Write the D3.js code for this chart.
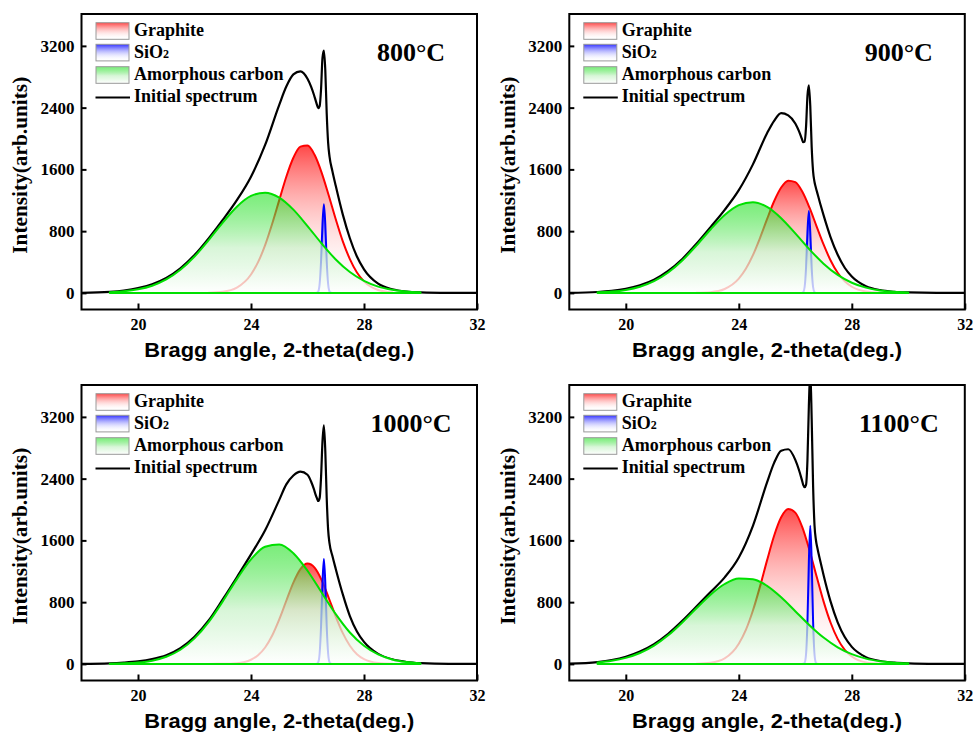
<!DOCTYPE html>
<html>
<head>
<meta charset="utf-8">
<title>XRD peak fitting</title>
<script src="https://d3js.org/d3.v7.min.js"></script>
<style>
  body { margin: 0; background: #fff; }
  svg { display: block; background: #fff; }
</style>
</head>
<body>
<svg id="chart" width="974" height="732"></svg>
<script>
// panel titles and axis ticks
var temps = ["800°C", "900°C", "1000°C", "1100°C"];
var xTicks = [20, 24, 28, 32];
var yTicks = [0, 800, 1600, 2400, 3200];

// 2-theta grids (deg.)
var specX = [18, 19, 19.5, 20, 20.5, 21, 21.5, 22, 22.5, 23, 23.5, 24, 24.5, 25, 25.25, 25.5, 25.75, 26, 26.13,
             26.23, 26.28, 26.33, 26.38, 26.43, 26.48, 26.53, 26.58, 26.63, 26.68, 26.73, 26.78, 26.88,
             27, 27.25, 27.5, 27.75, 28, 28.5, 29, 29.5, 30, 31, 32];
var graphX = [22.5, 23, 23.5, 24, 24.25, 24.5, 24.75, 25, 25.25, 25.5, 25.75, 26, 26.25, 26.5, 26.75,
              27, 27.25, 27.5, 27.75, 28, 28.5, 29];
var amorphX = [19, 19.5, 20, 20.5, 21, 21.5, 22, 22.5, 23, 23.5, 24, 24.5, 25, 25.5, 26, 26.5, 27,
               27.5, 28, 28.5, 29, 29.5, 30];
var sioX = [26.23, 26.28, 26.33, 26.38, 26.43, 26.48, 26.53, 26.58, 26.63, 26.68, 26.73, 26.78, 26.83, 26.88];

// initial spectrum (black)
var spec800 = [1, 14, 31, 61, 113, 194, 319, 491, 707, 946, 1201, 1505, 1917, 2437, 2673, 2830, 2871, 2775, 2669,
               2564, 2504, 2443, 2392, 2419, 2641, 3043, 3140, 2885, 2324, 1946, 1765, 1580,
               1387, 1014, 708, 471, 305, 119, 47, 17, 7, 1, 0];
var spec900 = [1, 12, 27, 54, 100, 172, 285, 440, 636, 852, 1075, 1331, 1665, 2069, 2230, 2330, 2300, 2195, 2095,
               1998, 1952, 1959, 2150, 2551, 2690, 2421, 1889, 1572, 1437, 1360, 1293, 1159,
               1007, 720, 494, 326, 212, 86, 35, 14, 6, 0, 0];
var spec1000 = [0, 7, 17, 33, 62, 112, 203, 351, 562, 836, 1123, 1418, 1731, 2125, 2325, 2440, 2490, 2450, 2360,
                2260, 2200, 2150, 2110, 2150, 2420, 2880, 3090, 2760, 2150, 1740, 1560, 1400,
                1230, 900, 620, 420, 285, 130, 58, 25, 10, 0, 0];
var spec1100 = [3, 24, 50, 93, 161, 257, 390, 557, 742, 931, 1121, 1378, 1789, 2352, 2604, 2762, 2781, 2643, 2512,
                2387, 2320, 2290, 2320, 2638, 3341, 3800, 3174, 2305, 1796, 1605, 1504, 1340,
                1151, 806, 539, 348, 221, 88, 38, 16, 7, 1, 0];

// graphite component (red)
var graph800 = [3, 15, 69, 239, 398, 618, 895, 1202, 1505, 1751, 1895, 1909, 1789, 1559, 1265, 954, 668, 438, 265, 150, 38, 7];
var graph900 = [2, 10, 51, 184, 312, 490, 711, 955, 1187, 1365, 1454, 1434, 1310, 1107, 866, 628, 420, 261, 150, 80, 18, 3];
var graph1000 = [0, 1, 9, 54, 113, 213, 368, 577, 818, 1053, 1228, 1300, 1247, 1086, 857, 614, 398, 235, 125, 61, 11, 1];
var graph1100 = [2, 14, 71, 261, 440, 691, 1001, 1341, 1660, 1899, 2006, 1960, 1769, 1475, 1138, 810, 533, 324, 182, 95, 20, 3];

// amorphous carbon component (green)
var amorph800 = [9, 21, 46, 93, 174, 299, 471, 684, 911, 1117, 1256, 1299, 1235, 1079, 866, 640, 433, 270, 155, 81, 40, 17, 7];
var amorph900 = [7, 17, 39, 80, 152, 265, 420, 614, 822, 1009, 1137, 1175, 1114, 968, 771, 564, 379, 233, 132, 68, 32, 14, 6];
var amorph1000 = [2, 7, 18, 42, 92, 183, 331, 542, 810, 1099, 1354, 1518, 1548, 1434, 1207, 925, 645, 407, 235, 123, 58, 25, 10];
var amorph1100 = [19, 40, 78, 141, 237, 370, 537, 720, 897, 1035, 1107, 1098, 1011, 863, 683, 501, 341, 215, 126, 68, 35, 16, 7];

// SiO2 component (blue)
var sio800 = [0, 0, 2, 19, 116, 413, 891, 1150, 891, 413, 116, 19, 2, 0];
var sio900 = [0, 9, 74, 324, 789, 1060, 789, 324, 74, 9, 0, 0, 0, 0];
var sio1000 = [0, 0, 2, 22, 137, 490, 1054, 1360, 1054, 490, 137, 22, 2, 0];
var sio1100 = [0, 1, 16, 124, 548, 1332, 1790, 1332, 548, 124, 16, 1, 0, 0];

var specs = [spec800, spec900, spec1000, spec1100];
var graphs = [graph800, graph900, graph1000, graph1100];
var amorphs = [amorph800, amorph900, amorph1000, amorph1100];
var sios = [sio800, sio900, sio1000, sio1100];

// layout
var frames = [[81.5, 14], [569.3, 14], [81.5, 385], [569.3, 385]],
    pw = 395.5,
    ph = 295.5,
    serif = "'Liberation Serif', 'Times New Roman', serif",
    sans = "'Liberation Sans', Arial, sans-serif";

var svg = d3.select("#chart");
var defs = svg.append("defs");

// vertical gradients: colour at the top, fading towards the baseline
function addGrad(id, stops) {
  var gr = defs.append("linearGradient").attr("id", id)
    .attr("x1", 0).attr("y1", 0).attr("x2", 0).attr("y2", 1);
  stops.forEach(function (s) {
    gr.append("stop").attr("offset", s[0]).attr("stop-color", s[1]).attr("stop-opacity", s[2]);
  });
}
addGrad("gRed", [["0%", "#ff0000", 0.72], ["100%", "#ffffff", 0]]);
addGrad("gBlue", [["0%", "#0000ff", 0.8], ["100%", "#ffffff", 0]]);
addGrad("gGreen", [["0%", "#00dd00", 0.52], ["55%", "#c8f2c8", 0.7], ["100%", "#ffffff", 0.8]]);

frames.forEach(function (f, i) {
  var g = svg.append("g").attr("transform", "translate(" + f[0] + "," + f[1] + ")");

  var x = d3.scaleLinear().domain([18, 32]).range([0, pw]),
      y = d3.scaleLinear().domain([-215, 3613]).range([ph, 0]);

  defs.append("clipPath").attr("id", "clip" + i)
    .append("rect").attr("width", pw).attr("height", ph);

  var plot = g.append("g").attr("clip-path", "url(#clip" + i + ")");

  var line = d3.line()
    .x(function (d) { return x(d[0]); })
    .y(function (d) { return y(d[1]); })
    .curve(d3.curveMonotoneX);
  var area = d3.area()
    .x(function (d) { return x(d[0]); })
    .y0(y(0))
    .y1(function (d) { return y(d[1]); })
    .curve(d3.curveMonotoneX);

  // initial spectrum
  plot.append("path")
    .datum(d3.zip(specX, specs[i]))
    .attr("d", line)
    .attr("fill", "none")
    .attr("stroke", "#000")
    .attr("stroke-width", 2.2)
    .attr("stroke-linejoin", "round");

  // fitted components
  var comps = [
    [graphX, graphs[i], "gRed", "#ff0000"],
    [sioX, sios[i], "gBlue", "#0000ff"],
    [amorphX, amorphs[i], "gGreen", "#00e000"]
  ];
  comps.forEach(function (c) {
    plot.append("path")
      .datum(d3.zip(c[0], c[1]))
      .attr("d", area)
      .attr("fill", "url(#" + c[2] + ")")
      .attr("stroke", c[3])
      .attr("stroke-width", 2)
      .attr("stroke-linejoin", "round");
  });

  // axes
  var xAxis = g.append("g")
    .attr("transform", "translate(0," + ph + ")")
    .call(d3.axisBottom(x).tickValues(xTicks).tickFormat(d3.format("d"))
      .tickSizeInner(-6).tickSizeOuter(0).tickPadding(9.5));
  xAxis.select(".domain").remove();
  xAxis.selectAll(".tick line").attr("stroke", "#000").attr("stroke-width", 2);
  xAxis.selectAll(".tick text")
    .style("font-family", serif).style("font-weight", "bold").style("font-size", "16px").attr("fill", "#000");

  var yAxis = g.append("g")
    .call(d3.axisLeft(y).tickValues(yTicks).tickFormat(d3.format("d"))
      .tickSizeInner(-5).tickSizeOuter(0).tickPadding(7));
  yAxis.select(".domain").remove();
  yAxis.selectAll(".tick line").attr("stroke", "#000").attr("stroke-width", 2);
  yAxis.selectAll(".tick text")
    .style("font-family", serif).style("font-weight", "bold").style("font-size", "17px").attr("fill", "#000");

  // frame
  g.append("rect")
    .attr("width", pw).attr("height", ph)
    .attr("fill", "none").attr("stroke", "#000").attr("stroke-width", 2);

  // axis titles
  g.append("text")
    .attr("transform", "translate(-54.5," + (ph / 2 + 3.5) + ") rotate(-90)")
    .attr("text-anchor", "middle")
    .attr("textLength", 177).attr("lengthAdjust", "spacingAndGlyphs")
    .style("font-family", serif).style("font-weight", "bold").style("font-size", "21px")
    .text("Intensity(arb.units)");
  g.append("text")
    .attr("x", pw / 2).attr("y", ph + 47.5)
    .attr("text-anchor", "middle")
    .attr("textLength", 270).attr("lengthAdjust", "spacingAndGlyphs")
    .style("font-family", sans).style("font-weight", "bold").style("font-size", "21px")
    .text("Bragg angle, 2-theta(deg.)");

  // temperature label
  g.append("text")
    .attr("x", 329.5).attr("y", 47)
    .attr("text-anchor", "middle")
    .style("font-family", serif).style("font-weight", "bold").style("font-size", "26px")
    .text(temps[i]);

  // legend
  var lg = g.append("g")
    .style("font-family", serif).style("font-weight", "bold").style("font-size", "18px");
  var swTops = [8.7, 30.3, 52.7],
      swFills = ["gRed", "gBlue", "gGreen"];
  swTops.forEach(function (t, k) {
    lg.append("rect")
      .attr("x", 14.5).attr("y", t).attr("width", 33).attr("height", 16.6)
      .attr("fill", "url(#" + swFills[k] + ")")
      .attr("stroke", "#999").attr("stroke-width", 1);
  });
  lg.append("line")
    .attr("x1", 14).attr("x2", 48.5).attr("y1", 83.5).attr("y2", 83.5)
    .attr("stroke", "#000").attr("stroke-width", 2);

  lg.append("text").attr("x", 52.5).attr("y", 22).text("Graphite");
  var sio = lg.append("text").attr("x", 52.5).attr("y", 44);
  sio.append("tspan").text("SiO");
  sio.append("tspan").style("font-size", "12px").text("2");
  lg.append("text").attr("x", 52.5).attr("y", 66.3).text("Amorphous carbon");
  lg.append("text").attr("x", 52.5).attr("y", 88.3).text("Initial spectrum");
});
</script>
</body>
</html>
